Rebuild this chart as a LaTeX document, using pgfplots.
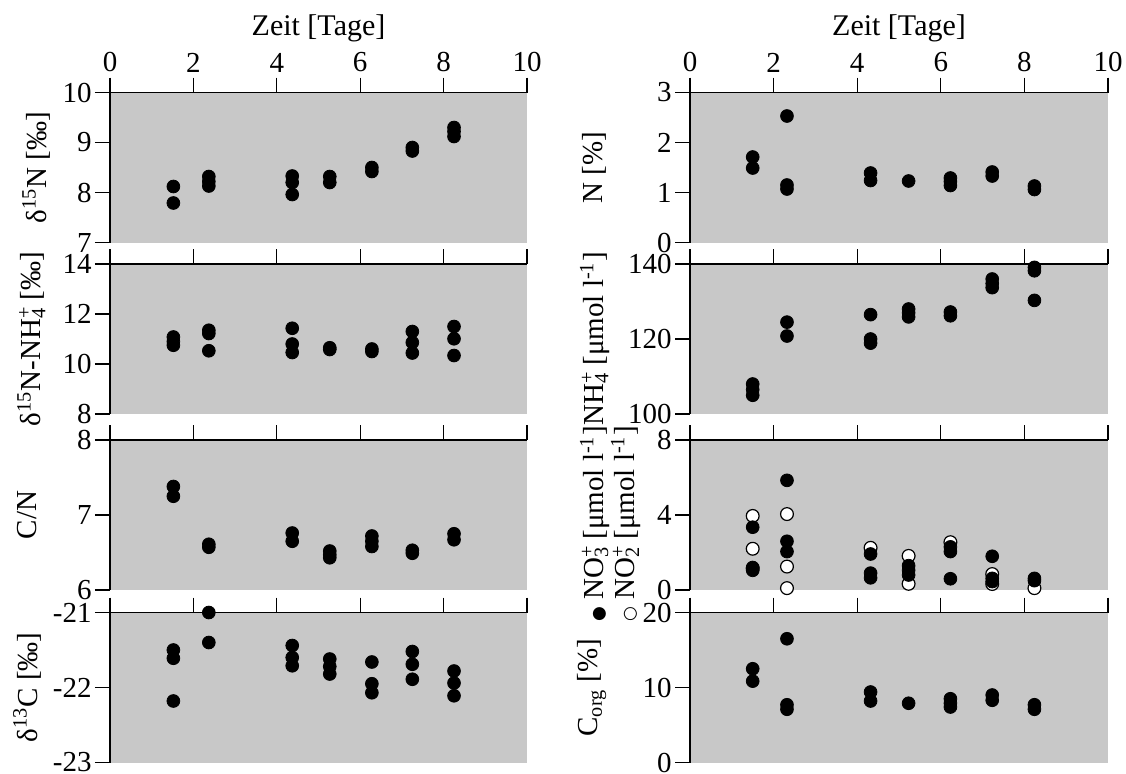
\documentclass[border=0pt]{standalone}
\usepackage{fontspec}
\setmainfont{Liberation Serif}
\newfontfamily\sym{DejaVu Sans}
\usepackage{pgfplots}
\pgfplotsset{compat=1.18}
\definecolor{bg}{RGB}{200,200,200}
\newcommand\supsub[2]{\rlap{\textsuperscript{#2}}\textsubscript{#1}}
\newcommand\bul{{\sym\fontsize{8.5}{8.5}\selectfont ●}}
\newcommand\cir{{\sym\fontsize{8.5}{8.5}\selectfont ○}}
\pgfplotsset{
 dot/.style={black, only marks, mark=*, mark size=3.2pt},
 odot/.style={black, only marks, mark=*, mark size=3.2pt, mark options={fill=white, draw=black, line width=0.6pt}},
 panel/.style={
  scale only axis, height=75pt,
  xmin=0, xmax=10, xtick={0,2,4,6,8,10},
  axis x line=top, axis y line=left,
  axis line style={-, black, line width=0.6pt},
  tick align=outside, major tick length=7.5pt,
  tick style={black, line width=0.6pt},
  axis background/.style={fill=bg},
  font=\fontsize{14.5}{16}\selectfont,
  /pgf/number format/assume math mode=true,
  yticklabel style={inner xsep=1.5pt},
  xticklabel style={inner ysep=2.5pt},
  xticklabels={},
  clip=false,
 },
 lpanel/.style={panel, width=208.5pt},
 rpanel/.style={panel, width=209pt},
 toppanel/.style={xticklabels={0,2,4,6,8,10}, xlabel={Zeit [Tage]},
   xlabel style={at={(axis description cs:0.5,1.43)}, anchor=center, font=\fontsize{15}{17}\selectfont}},
}
\begin{document}
\begin{tikzpicture}
\useasboundingbox (0,0) rectangle (563pt,-386.5pt);
% ---------------- left column ----------------
\begin{axis}[lpanel, toppanel, at={(55pt,-46.25pt)}, anchor=north west,
  ymin=7, ymax=10, ytick={7,8,9,10},
  ylabel={δ\textsuperscript{15}N [‰]},
  ylabel style={at={(axis description cs:-0.177,0.5)}, anchor=center}]
\addplot[dot] coordinates {(1.52,8.12)(1.52,7.79)(2.37,8.32)(2.37,8.22)(2.37,8.13)(4.37,8.33)(4.37,8.2)(4.37,7.96)(5.27,8.32)(5.27,8.2)(6.28,8.5)(6.28,8.42)(7.25,8.9)(7.25,8.83)(8.25,9.3)(8.25,9.22)(8.25,9.12)};
\end{axis}
\begin{axis}[lpanel, at={(55pt,-132pt)}, anchor=north west,
  ymin=8, ymax=14, ytick={8,10,12,14},
  ylabel={δ\textsuperscript{15}N-NH\supsub{4}{+} [‰]},
  ylabel style={at={(axis description cs:-0.189,0.5)}, anchor=center}]
\addplot[dot] coordinates {(1.52,11.08)(1.52,10.9)(1.52,10.75)(2.37,11.35)(2.37,11.22)(2.37,10.53)(4.37,11.43)(4.37,10.8)(4.37,10.46)(5.27,10.65)(5.27,10.58)(6.28,10.6)(6.28,10.5)(7.25,11.3)(7.25,10.86)(7.25,10.44)(8.25,11.5)(8.25,11.01)(8.25,10.34)};
\end{axis}
\begin{axis}[lpanel, at={(55pt,-220pt)}, anchor=north west,
  ymin=6, ymax=8, ytick={6,7,8},
  ylabel={C/N},
  ylabel style={at={(axis description cs:-0.199,0.5)}, anchor=center}]
\addplot[dot] coordinates {(1.52,7.38)(1.52,7.25)(2.37,6.61)(2.37,6.57)(4.37,6.76)(4.37,6.65)(5.27,6.52)(5.27,6.47)(5.27,6.43)(6.28,6.72)(6.28,6.65)(6.28,6.58)(7.25,6.53)(7.25,6.49)(8.25,6.75)(8.25,6.67)};
\end{axis}
\begin{axis}[lpanel, at={(55pt,-306.25pt)}, anchor=north west,
  ymin=-23, ymax=-21, ytick={-23,-22,-21}, yticklabels={-23,-22,-21},
  ylabel={δ\textsuperscript{13}C [‰]},
  ylabel style={at={(axis description cs:-0.199,0.5)}, anchor=center}]
\addplot[dot] coordinates {(1.52,-21.5)(1.52,-21.61)(1.52,-22.18)(2.37,-21.0)(2.37,-21.4)(4.37,-21.44)(4.37,-21.6)(4.37,-21.71)(5.27,-21.62)(5.27,-21.72)(5.27,-21.82)(6.28,-21.66)(6.28,-21.95)(6.28,-22.07)(7.25,-21.52)(7.25,-21.69)(7.25,-21.89)(8.25,-21.78)(8.25,-21.94)(8.25,-22.11)};
\end{axis}
% ---------------- right column ----------------
\begin{axis}[rpanel, toppanel, at={(345pt,-46.25pt)}, anchor=north west,
  ymin=0, ymax=3, ytick={0,1,2,3},
  ylabel={N [\%]},
  ylabel style={at={(axis description cs:-0.228,0.5)}, anchor=center}]
\addplot[dot] coordinates {(1.5,1.71)(1.5,1.49)(2.32,2.53)(2.32,1.15)(2.32,1.07)(4.32,1.39)(4.32,1.24)(5.23,1.23)(6.23,1.29)(6.23,1.22)(6.23,1.14)(7.23,1.41)(7.23,1.33)(8.24,1.13)(8.24,1.06)};
\end{axis}
\begin{axis}[rpanel, at={(345pt,-132pt)}, anchor=north west,
  ymin=100, ymax=140, ytick={100,120,140},
  ylabel={NH\supsub{4}{+} [μmol l\textsuperscript{-1}]},
  ylabel style={at={(axis description cs:-0.227,0.5)}, anchor=center}]
\addplot[dot] coordinates {(1.5,108)(1.5,106.5)(1.5,105)(2.32,124.5)(2.32,120.8)(4.32,126.5)(4.32,120)(4.32,118.9)(5.23,128)(5.23,127)(5.23,125.9)(6.23,127.2)(6.23,126.2)(7.23,136)(7.23,134.8)(7.23,133.7)(8.24,139.1)(8.24,138.2)(8.24,130.3)};
\end{axis}
\begin{axis}[rpanel, at={(345pt,-220pt)}, anchor=north west,
  ymin=0, ymax=8, ytick={0,4,8},
  ylabel={\bul\ NO\supsub{3}{+} [μmol l\textsuperscript{-1}]\\\cir\ NO\supsub{2}{+} [μmol l\textsuperscript{-1}]},
  ylabel style={at={(axis description cs:-0.19,0.44)}, anchor=center, align=center,
    font=\fontsize{14.5}{15.5}\selectfont}]
\addplot[odot] coordinates {(1.5,3.95)(1.5,2.2)(1.5,1.15)(2.32,4.05)(2.32,1.25)(2.32,0.1)(4.32,2.25)(5.23,1.82)(5.23,0.33)(6.23,2.55)(7.23,0.85)(7.23,0.32)(8.24,0.1)};
\addplot[dot] coordinates {(1.5,3.35)(1.5,1.2)(1.5,1.05)(2.32,5.85)(2.32,2.6)(2.32,2.05)(4.32,1.92)(4.32,0.9)(4.32,0.65)(5.23,1.3)(5.23,1.05)(5.23,0.8)(6.23,2.3)(6.23,2.05)(6.23,0.6)(7.23,1.8)(7.23,0.62)(7.23,0.45)(8.24,0.62)(8.24,0.5)};
\end{axis}
\begin{axis}[rpanel, at={(345pt,-306.25pt)}, anchor=north west,
  ymin=0, ymax=20, ytick={0,10,20},
  ylabel={C\textsubscript{org} [\%]},
  ylabel style={at={(axis description cs:-0.235,0.5)}, anchor=center}]
\addplot[dot] coordinates {(1.5,12.5)(1.5,10.85)(2.32,16.5)(2.32,7.7)(2.32,7.1)(4.32,9.4)(4.32,8.2)(5.23,7.9)(6.23,8.5)(6.23,7.9)(6.23,7.4)(7.23,9.0)(7.23,8.3)(8.24,7.7)(8.24,7.1)};
\end{axis}
\end{tikzpicture}
\end{document}
